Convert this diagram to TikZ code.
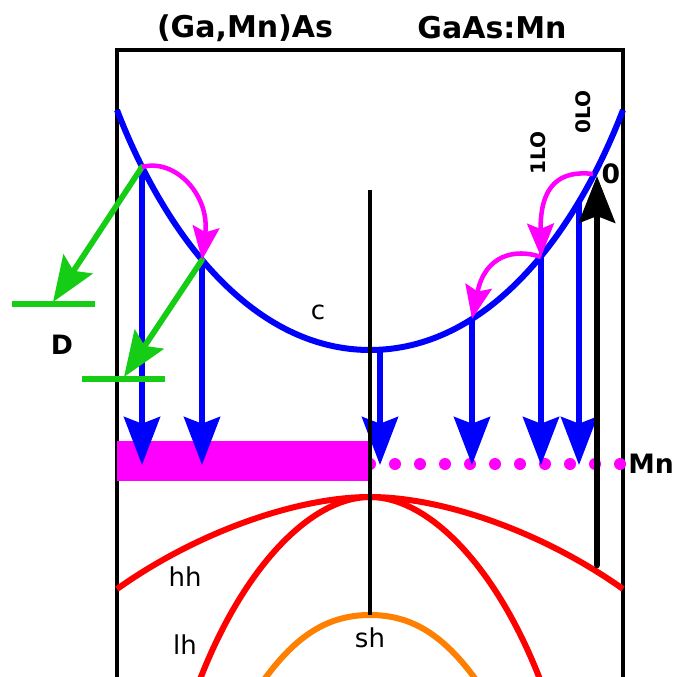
\documentclass[tikz,border=0pt]{standalone}
\usepackage{fontspec}
\setmainfont{DejaVu Sans}
\usetikzlibrary{arrows.meta}
\definecolor{cblue}{RGB}{0,0,255}
\definecolor{cgreen}{RGB}{20,205,20}
\definecolor{cmag}{RGB}{255,0,255}
\definecolor{cred}{RGB}{255,0,0}
\definecolor{corange}{RGB}{255,128,0}
\begin{document}
\begin{tikzpicture}[x=0.75pt,y=-0.75pt,
  frameline/.style={line width=3.2pt, line join=miter},
  bluearr/.style={draw=cblue, line width=4.3pt, -{Stealth[length=36pt,width=27pt,inset=5pt]}},
  greenarr/.style={draw=cgreen, line width=4.3pt, line cap=round, -{Stealth[length=34pt,width=26pt,inset=6pt]}},
  greenbar/.style={draw=cgreen, line width=4.5pt},
  magarr/.style={draw=cmag, line width=3.4pt, -{Stealth[length=25pt,width=20pt,inset=4pt]}},
  blackarr/.style={draw=black, line width=5pt, line cap=round, -{Stealth[length=35pt,width=27pt,inset=5pt]}},
  band/.style={line width=4.5pt},
  titletext/.style={font=\fontsize{22.5}{26}\selectfont\bfseries, inner sep=0pt},
  boldlabel/.style={font=\fontsize{20}{24}\selectfont\bfseries, inner sep=0pt},
  smalllabel/.style={font=\fontsize{15}{18}\selectfont\bfseries, inner sep=0pt, rotate=90},
  bandlabel/.style={font=\fontsize{19.5}{23}\selectfont, inner sep=0pt}
]
\path[use as bounding box, clip] (0,0) rectangle (675,677);

% frame
\draw[frameline] (117,700) -- (117,50) -- (623,50) -- (623,700);

% titles
\node[titletext] (t1) at (245,28) {(Ga,Mn)As};
\node[titletext] (t2) at (492,28) {GaAs:Mn};

% Mn band (magenta)
\fill[cmag] (117,441) rectangle (370,481);
\foreach \i in {0,...,10} \fill[cmag] (370+25*\i,464) circle[radius=6];
\node[boldlabel, anchor=west] (mn) at (628,464) {Mn};

% valence bands
\draw[cred, band] (117,589) .. controls (200,530) and (300,497) .. (370,497)
   .. controls (440,497) and (540,530) .. (623,589);
\draw[cred, band] (196,690) .. controls (240,570) and (310,497) .. (370,497)
   .. controls (430,497) and (500,570) .. (544,690);
\draw[corange, band] (257,690) .. controls (295,633) and (330,615) .. (370,615)
   .. controls (410,615) and (445,633) .. (483,690);
\node[bandlabel] (hh) at (185,577) {hh};
\node[bandlabel] (lh) at (185,645) {lh};
\node[bandlabel] (sh) at (370,638) {sh};

% points on conduction band
\coordinate (p1) at (142,167);
\coordinate (p2) at (202,260);
\coordinate (p3) at (380,350);
\coordinate (p4) at (472,319);
\coordinate (p5) at (541,257);
\coordinate (p6) at (579,201);
\coordinate (p7) at (593,174);
\coordinate (q1) at (142,465);
\coordinate (q2) at (202,465);
\coordinate (q3) at (380,465);
\coordinate (q4) at (472,465);
\coordinate (q5) at (541,465);
\coordinate (q6) at (579,465);

% blue transitions
\foreach \a/\b in {p1/q1,p2/q2,p3/q3,p4/q4,p5/q5,p6/q6}
  \draw[bluearr] (\a) -- (\b);

% conduction band
\draw[cblue, band] (117,110) .. controls (167,240) and (255,350) .. (370,350)
   .. controls (485,350) and (573,240) .. (623,110);
\node[bandlabel] (c) at (318,312) {c};

% center line
\coordinate (m1) at (370,190);
\coordinate (m2) at (370,615);
\draw[line width=2.6pt] (m1) -- (m2);

% donor levels
\coordinate (d1a) at (12,304);
\coordinate (d1b) at (95,304);
\coordinate (d2a) at (82,379);
\coordinate (d2b) at (165,379);
\coordinate (g1) at (53,302);
\coordinate (g2) at (124,377);
\draw[greenbar] (d1a) -- (d1b);
\draw[greenbar] (d2a) -- (d2b);
\draw[greenarr] (p1) -- (g1);
\draw[greenarr] (p2) -- (g2);
\node[boldlabel] (D) at (62,345) {D};

% phonon cascade (magenta)
\draw[magarr] (p1) .. controls (175,158) and (210,195) .. (p2);
\draw[magarr] (p7) .. controls (560,170) and (540,185) .. (p5);
\draw[magarr] (p5) .. controls (515,248) and (485,255) .. (p4);

% excitation arrow
\coordinate (e1) at (597,565);
\coordinate (e2) at (597,176);
\draw[blackarr] (e1) -- (e2);
\node[boldlabel] (zero) at (611,174) {0};
\node[smalllabel] (lo1) at (538,153) {1LO};
\node[smalllabel] (lo0) at (583,112) {0LO};
\end{tikzpicture}
\end{document}
